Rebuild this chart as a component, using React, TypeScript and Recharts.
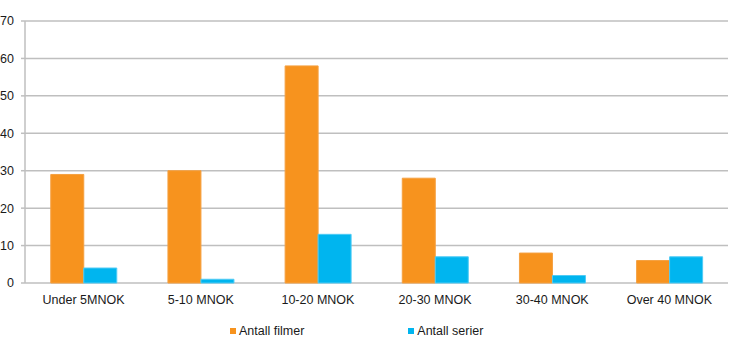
import React from 'react';
import { BarChart, Bar, XAxis, YAxis, CartesianGrid } from 'recharts';

const categories = ['Under 5MNOK', '5-10 MNOK', '10-20 MNOK', '20-30 MNOK', '30-40 MNOK', 'Over 40 MNOK'];
const filmer = [29, 30, 58, 28, 8, 6];
const serier = [4, 1, 13, 7, 2, 7];
const yTicks = [0, 10, 20, 30, 40, 50, 60, 70];
const seriesNames = ['Antall filmer', 'Antall serier'];
const boundaryTicks = [0, 1, 2, 3, 4, 5, 6];

const ORANGE = '#F7931E';
const BLUE = '#00B5EF';
const GRID = '#BFBFBF';
const FONT = '"Liberation Sans", Arial, sans-serif';

const data = categories.map((c, i) => ({ name: c, filmer: filmer[i], serier: serier[i] }));

export default function App() {
  return (
    <div style={{ position: 'absolute', left: 0, top: 0, width: 730, height: 355, background: '#fff', fontFamily: FONT }}>
      <BarChart
        width={730}
        height={355}
        data={data}
        margin={{ top: 21, right: 2, left: 0, bottom: 42 }}
        barCategoryGap="22%"
        barGap={0}
      >
        <CartesianGrid vertical={false} stroke={GRID} strokeWidth={1.5} />
        <XAxis
          xAxisId="b"
          type="number"
          domain={[0, 6]}
          ticks={boundaryTicks}
          height={0}
          tickSize={5}
          tickFormatter={() => ''}
          axisLine={{ stroke: GRID, strokeWidth: 1.5 }}
          tickLine={{ stroke: GRID, strokeWidth: 1.5 }}
          allowDataOverflow
        />
        <XAxis
          dataKey="name"
          height={30}
          tickSize={0}
          tickMargin={12}
          axisLine={false}
          tick={{ fill: '#1a1a1a', fontSize: 12.5, fontFamily: FONT }}
          interval={0}
        />
        <YAxis
          width={25}
          domain={[0, 70]}
          ticks={yTicks}
          tickSize={4}
          tickMargin={7}
          axisLine={{ stroke: GRID, strokeWidth: 1.5 }}
          tickLine={{ stroke: GRID, strokeWidth: 1.5 }}
          tick={{ fill: '#1a1a1a', fontSize: 12.5, fontFamily: FONT }}
        />
        <Bar dataKey="filmer" name={seriesNames[0]} fill={ORANGE} stroke="#F5A040" strokeWidth={1} isAnimationActive={false} />
        <Bar dataKey="serier" name={seriesNames[1]} fill={BLUE} stroke="#4FCBF5" strokeWidth={1} isAnimationActive={false} />
      </BarChart>
      <div style={{ position: 'absolute', left: 230, top: 324, display: 'flex', alignItems: 'center', fontSize: 12.5, color: '#1a1a1a', lineHeight: '14px' }}>
        <span style={{ display: 'inline-block', width: 6, height: 6, background: ORANGE, marginRight: 3 }} />
        <span>{seriesNames[0]}</span>
        <span style={{ display: 'inline-block', width: 6, height: 6, background: BLUE, marginRight: 3, marginLeft: 104 }} />
        <span>{seriesNames[1]}</span>
      </div>
    </div>
  );
}
